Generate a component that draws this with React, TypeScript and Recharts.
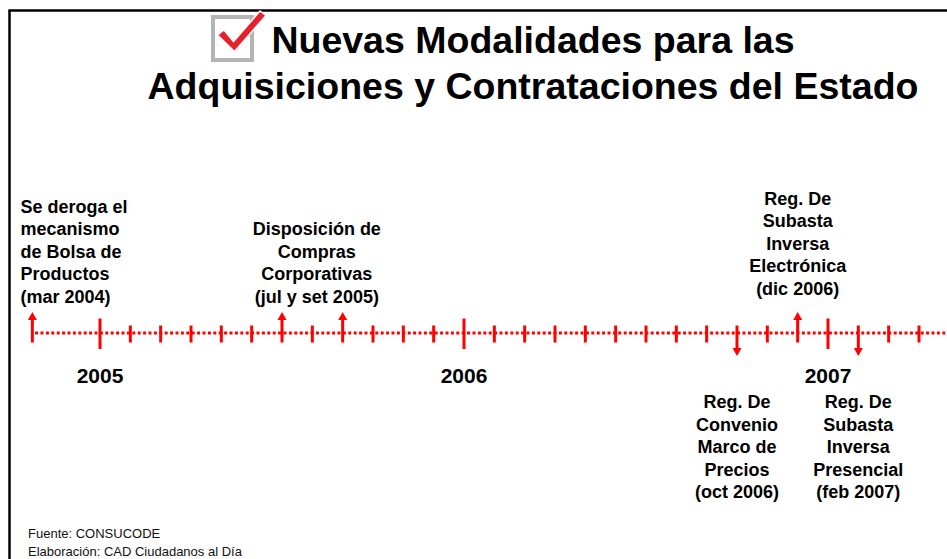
import { ScatterChart, Scatter, XAxis, YAxis } from "recharts";

// months counted from Jan 2005 (the mar 2004 mark sits left of a break in the axis)
const majorMonths = [0, 12, 24];
const yearLabels = ["2005", "2006", "2007"];
const minorMonths = [1, 2, 3, 4, 5, 7, 9, 10, 11, 13, 14, 15, 16, 17, 18, 19, 20, 22, 26, 27];
const eventMonths = [-2.23, 6, 8, 21, 23, 25];
const eventDirs = ["up", "up", "up", "down", "up", "down"];
const lineSpan = [-2.14, 28];

const noteMonths = [-2.62, 7.15, 23, 21, 25];
const noteSides = ["up", "up", "up", "down", "down"];
const noteLines = [
  ["Se deroga el", "mecanismo", "de Bolsa de", "Productos", "(mar 2004)"],
  ["Disposición de", "Compras", "Corporativas", "(jul y set 2005)"],
  ["Reg. De", "Subasta", "Inversa", "Electrónica", "(dic 2006)"],
  ["Reg. De", "Convenio", "Marco de", "Precios", "(oct 2006)"],
  ["Reg. De", "Subasta", "Inversa", "Presencial", "(feb 2007)"],
];

const RED = "#ff0000";
const FONT = "'Liberation Sans', Arial, sans-serif";
const W = 947;
const H = 559;

const majorData = majorMonths.map((m, i) => ({ m, y: 0, year: yearLabels[i] }));
const minorData = minorMonths.map((m) => ({ m, y: 0 }));
const eventData = eventMonths.map((m, i) => ({ m, y: 0, dir: eventDirs[i] }));
const noteData = noteMonths.map((m, i) => ({ m, y: 0, side: noteSides[i], lines: noteLines[i], idx: i }));
const spanData = lineSpan.map((m) => ({ m, y: 0 }));

// label placement tweaks (px)
const noteGapUp = [30, 30, 38];
const noteGapDown = 75;
const lineH = 22.6;

const MinorTick = (p: any) => (
  <line x1={p.cx} x2={p.cx} y1={p.cy - 7.5} y2={p.cy + 9.5} stroke={RED} strokeWidth={3} />
);

const MajorTick = (p: any) => (
  <g>
    <line x1={p.cx} x2={p.cx} y1={p.cy - 14.5} y2={p.cy + 16} stroke={RED} strokeWidth={3} />
    <text
      x={p.cx}
      y={p.cy + 50}
      textAnchor="middle"
      fontFamily={FONT}
      fontWeight="bold"
      fontSize={21}
      fill="#000"
    >
      {p.payload.year}
    </text>
  </g>
);

const Arrow = (p: any) => {
  const { cx, cy } = p;
  if (p.payload.dir === "up") {
    return (
      <g>
        <line x1={cx} x2={cx} y1={cy - 15} y2={cy + 9.5} stroke={RED} strokeWidth={3} />
        <polygon points={`${cx - 4.5},${cy - 13} ${cx + 4.5},${cy - 13} ${cx},${cy - 21}`} fill={RED} />
      </g>
    );
  }
  return (
    <g>
      <line x1={cx} x2={cx} y1={cy - 7.5} y2={cy + 17} stroke={RED} strokeWidth={3} />
      <polygon points={`${cx - 4.5},${cy + 15} ${cx + 4.5},${cy + 15} ${cx},${cy + 23}`} fill={RED} />
    </g>
  );
};

const Note = (p: any) => {
  const { cx, cy, payload } = p;
  const lines: string[] = payload.lines;
  const first =
    payload.side === "up"
      ? cy - noteGapUp[payload.idx] - (lines.length - 1) * lineH
      : cy + noteGapDown;
  const anchor = payload.idx === 0 ? "start" : "middle";
  return (
    <text
      x={cx}
      y={first}
      textAnchor={anchor}
      fontFamily={FONT}
      fontWeight="bold"
      fontSize={18}
      fill="#000"
    >
      {lines.map((l, i) => (
        <tspan key={i} x={cx} y={first + i * lineH}>
          {l}
        </tspan>
      ))}
    </text>
  );
};

const NoDot = () => <g />;

export default function App() {
  return (
    <div style={{ position: "relative", width: W, height: H, background: "#fff", overflow: "hidden" }}>
      <style>{"body{margin:0}"}</style>
      <ScatterChart
        width={W}
        height={H}
        margin={{ top: 0, right: 0, bottom: 0, left: 0 }}
        style={{ position: "absolute", left: 0, top: 0 }}
      >
        <XAxis type="number" dataKey="m" domain={[-100 / 30.333, 847 / 30.333]} allowDataOverflow hide />
        {/* y = 0 is the timeline, placed 333px from the top */}
        <YAxis type="number" dataKey="y" domain={[-2.26, 3.33]} allowDataOverflow hide />
        <Scatter
          data={spanData}
          shape={NoDot}
          line={{ stroke: RED, strokeWidth: 3, strokeDasharray: "3 2.4" }}
          lineType="joint"
          isAnimationActive={false}
        />
        <Scatter data={minorData} shape={MinorTick} isAnimationActive={false} />
        <Scatter data={majorData} shape={MajorTick} isAnimationActive={false} />
        <Scatter data={eventData} shape={Arrow} isAnimationActive={false} />
        <Scatter data={noteData} shape={Note} isAnimationActive={false} />
      </ScatterChart>
      <svg width={W} height={H} style={{ position: "absolute", left: 0, top: 0, pointerEvents: "none" }}>
        <line x1={8.5} y1={10.5} x2={W} y2={10.5} stroke="#000" strokeWidth={2.5} />
        <line x1={9.5} y1={10} x2={9.5} y2={H} stroke="#000" strokeWidth={2.5} />
        <rect x={213} y={17} width={39} height={43} fill="none" stroke="#b4b4b4" strokeWidth={4} />
        <path
          d="M217.5,35 L224,30 L233.5,41.5 L260,11 L266,15.5 L234.5,51.5 Z"
          fill="#e8202a"
          stroke="#fff"
          strokeWidth={1.5}
        />
        <g fontFamily={FONT} fontWeight="bold" fontSize={37.5} fill="#000">
          <text x={533} y={53} textAnchor="middle">Nuevas Modalidades para las</text>
          <text x={533} y={98.5} textAnchor="middle">Adquisiciones y Contrataciones del Estado</text>
        </g>
        <g fontFamily={FONT} fontSize={13} fill="#111">
          <text x={28} y={538}>Fuente: CONSUCODE</text>
          <text x={28} y={556}>Elaboración: CAD Ciudadanos al Día</text>
        </g>
      </svg>
    </div>
  );
}
